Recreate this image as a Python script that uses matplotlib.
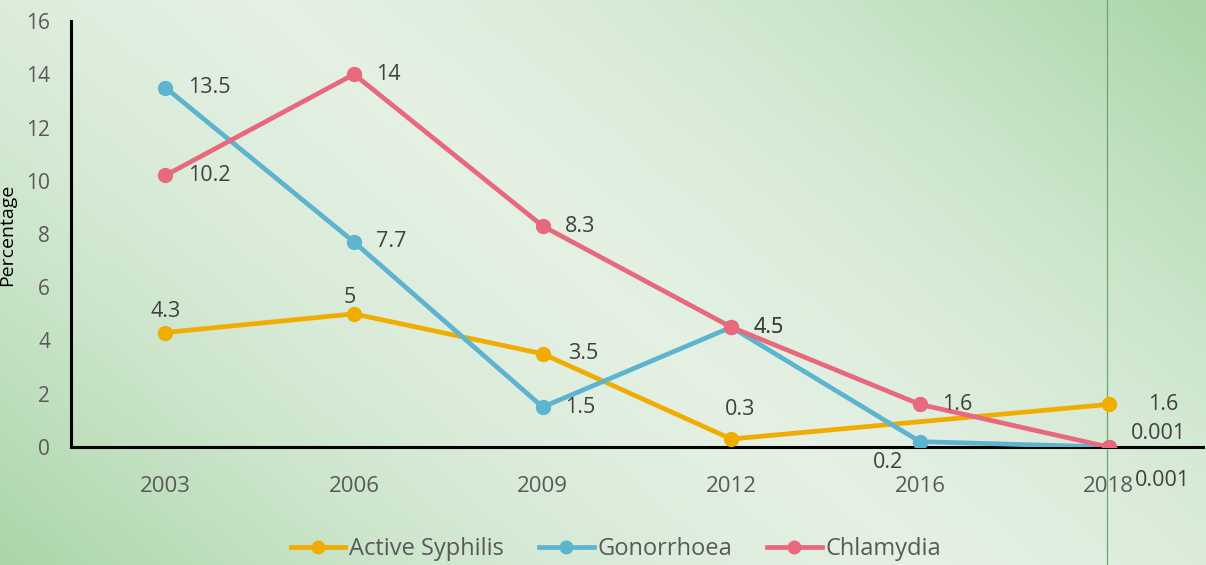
import numpy as np
import matplotlib.pyplot as plt
from matplotlib.colors import LinearSegmentedColormap

# Dados
anos = ['2003', '2006', '2009', '2012', '2016', '2018']
sifilis_x = [0, 1, 2, 3, 5]           # sem ponto em 2016
sifilis = [4.3, 5, 3.5, 0.3, 1.6]
gonorreia = [13.5, 7.7, 1.5, 4.5, 0.2, 0.001]
clamidia = [10.2, 14, 8.3, 4.5, 1.6, 0.001]

cor_sif = '#F0AC00'
cor_gon = '#5DB4CF'
cor_cla = '#E8697D'

plt.rcParams['font.family'] = ['Open Sans', 'DejaVu Sans']

fig = plt.figure(figsize=(12.06, 5.65), dpi=100)

# Fundo em degradê verde
bg = fig.add_axes([0, 0, 1, 1], zorder=-10)
xx, yy = np.meshgrid(np.linspace(0, 1, 300), np.linspace(0, 1, 150))
escuro = np.clip(np.abs(xx * 1.0 - yy * 0.55 - 0.22) / 0.78, 0, 1) ** 1.6
cmap = LinearSegmentedColormap.from_list('fundo', ['#e3f0e2', '#a9d5a8'])
bg.imshow(escuro, cmap=cmap, aspect='auto', extent=[0, 1, 0, 1], origin='upper', vmin=0, vmax=1)
bg.axvline(0.9178, color='#6fa56f', lw=0.9)
bg.set_axis_off()

ax = fig.add_axes([71 / 1206, 1 - 447 / 565, (1203 - 71) / 1206, (447 - 21) / 565])
ax.patch.set_alpha(0)

ms = 10
lw = 3.4
ax.plot(sifilis_x, sifilis, color=cor_sif, lw=lw, marker='o', ms=ms, label='Active Syphilis', zorder=3)
ax.plot(range(len(anos)), gonorreia, color=cor_gon, lw=lw, marker='o', ms=ms, label='Gonorrhoea', zorder=4)
ax.plot(range(len(anos)), clamidia, color=cor_cla, lw=lw, marker='o', ms=ms, label='Chlamydia', zorder=5)

ax.set_xlim(-0.5, 5.5)
ax.set_ylim(0, 16)
ax.set_yticks(range(0, 17, 2))
ax.set_xticks(range(len(anos)))
ax.set_xticklabels(anos)
ax.tick_params(axis='both', length=0, labelcolor='#595959')
ax.tick_params(axis='x', pad=21, labelsize=16)
ax.tick_params(axis='y', pad=15, labelsize=15)
for lado in ['top', 'right']:
    ax.spines[lado].set_visible(False)
ax.spines['left'].set_linewidth(2.2)
ax.spines['bottom'].set_linewidth(2.2)
ax.set_ylabel('Percentage', fontsize=14)
ax.yaxis.set_label_coords(-0.0486, 0.498)

# Rótulos dos valores (deslocamento em pontos)
cor_txt = '#404040'
def rotulo(x, y, txt, dx, dy, ha='left'):
    ax.annotate(txt, (x, y), xytext=(dx, dy), textcoords='offset points',
                ha=ha, va='center', fontsize=15.5, color=cor_txt, zorder=6)

off_sif = [(0, 15, 'center'), (-3, 12, 'center'), (18, 0, 'left'), (6, 21, 'center'), (28, 0, 'left')]
for x, v, d in zip(sifilis_x, sifilis, off_sif):
    rotulo(x, v, f'{v:g}', d[0], d[1], d[2])

off_gon = [(16, 0, 'left'), (16, 0, 'left'), (16, 0, 'left'), (16, 0, 'left'),
           (-23, -15, 'center'), (19, -24, 'left')]
for x, (v, d) in enumerate(zip(gonorreia, off_gon)):
    rotulo(x, v, f'{v:g}', d[0], d[1], d[2])

off_cla = [(16, 0, 'left'), (16, 0, 'left'), (16, 0, 'left'), (16, 0, 'left'),
           (16, 0, 'left'), (16, 10, 'left')]
for x, (v, d) in enumerate(zip(clamidia, off_cla)):
    rotulo(x, v, f'{v:g}', d[0], d[1], d[2])

fig.legend(loc='center', bbox_to_anchor=(616 / 1206, 1 - 549 / 565), ncol=3, frameon=False,
           fontsize=17, labelcolor='#595959', handlelength=2.3, handletextpad=0.15,
           columnspacing=1.5, markerscale=0.9)

fig.savefig('out.png', dpi=100)
